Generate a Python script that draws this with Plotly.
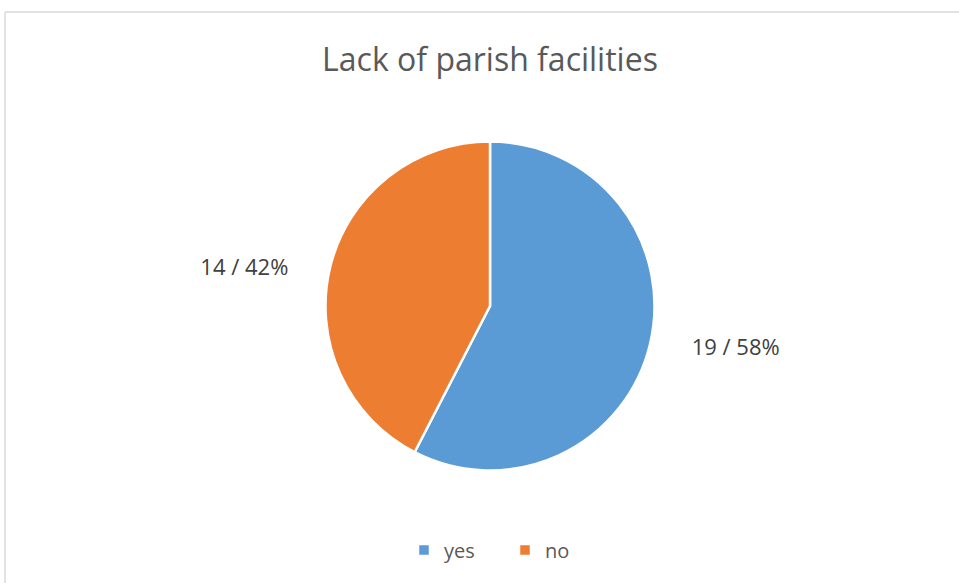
import plotly.graph_objects as go

labels = ["yes", "no"]
values = [19, 14]
colors = ["#5B9BD5", "#ED7D31"]
title_text = "Lack of parish facilities"

W, H = 959, 583
cx, cy = 490 / W, 1 - 306 / H
half_h = 164.5 / H
half_w = 380 / W

pad = "\u00a0" * 6
label_fmt = "%{value} / %{percent:.0%}"
templates = [pad + label_fmt, label_fmt + pad]

fig = go.Figure(
    go.Pie(
        labels=labels,
        values=values,
        sort=False,
        direction="clockwise",
        rotation=0,
        marker=dict(colors=colors, line=dict(color="white", width=2.5)),
        texttemplate=templates,
        textposition="outside",
        textfont=dict(family="Open Sans", size=22, color="#404040"),
        hoverinfo="label+value+percent",
        domain=dict(x=[cx - half_w, cx + half_w], y=[cy - half_h, cy + half_h]),
        showlegend=True,
    )
)

fig.update_layout(
    width=W,
    height=H,
    margin=dict(l=0, r=0, t=0, b=0, autoexpand=False),
    paper_bgcolor="white",
    plot_bgcolor="white",
    title=dict(
        text=title_text,
        x=490 / W,
        xanchor="center",
        y=1 - 60 / H,
        yanchor="middle",
        font=dict(family="Open Sans", size=32, color="#595959"),
    ),
    legend=dict(
        orientation="h",
        x=505 / W,
        xanchor="center",
        y=1 - 550 / H,
        yanchor="middle",
        entrywidth=56,
        entrywidthmode="pixels",
        font=dict(family="Open Sans", size=20, color="#595959"),
    ),
    shapes=[
        dict(type="line", xref="paper", yref="paper", x0=5 / W, x1=1, y0=1 - 12 / H, y1=1 - 12 / H,
             line=dict(color="#D9D9D9", width=1.5)),
        dict(type="line", xref="paper", yref="paper", x0=5 / W, x1=5 / W, y0=0, y1=1 - 12 / H,
             line=dict(color="#D9D9D9", width=1.5)),
    ],
)

fig.write_html(
    "out.html",
    config={"displayModeBar": False},
    post_script="document.body.style.margin='0';",
)
